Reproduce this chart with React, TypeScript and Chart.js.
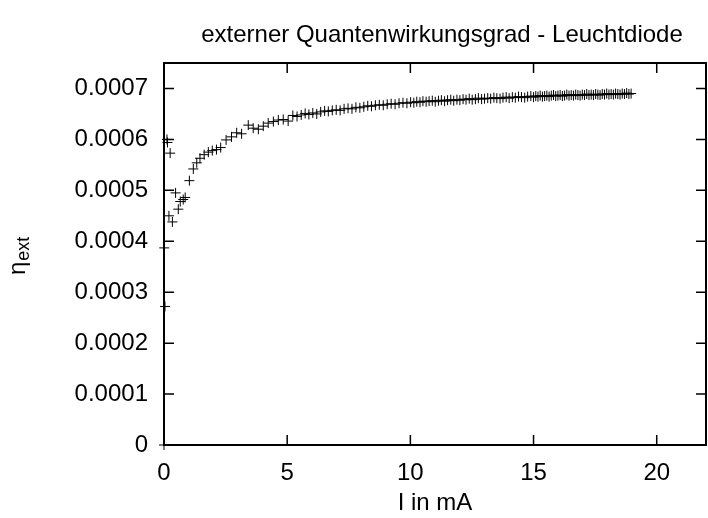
import React, { useEffect, useRef } from "react";
import { Chart, registerables } from "chart.js";

Chart.register(...registerables);

const chartTitle = "externer Quantenwirkungsgrad - Leuchtdiode";
const xAxisTitle = "I in mA";
const yAxisSymbol = "η";
const yAxisSub = "ext";

const xRange = [0, 22];
const yRange = [0, 0.00075];
const xTickStep = 5;
const yTickStep = 0.0001;

// Current in mA
const currentMA = [
  0, 0.01, 0.04, 0.12, 0.14, 0.2, 0.25, 0.34, 0.47, 0.58, 0.66, 0.78, 0.86,
  1.03, 1.19, 1.33, 1.46, 1.63, 1.8, 1.96, 2.13, 2.3, 2.52, 2.74, 2.95, 3.15,
  3.42, 3.62, 3.83, 4.03, 4.23, 4.44, 4.64, 4.84, 5.04, 5.23, 5.4, 5.57, 5.73,
  5.88,
  6.04, 6.2, 6.36, 6.52, 6.67, 6.83, 6.99, 7.15, 7.31, 7.47, 7.63, 7.79, 7.95,
  8.11, 8.27, 8.42, 8.58, 8.74, 8.9, 9.06, 9.22, 9.38, 9.54, 9.7, 9.86, 10.01,
  10.14, 10.26, 10.39, 10.51, 10.64, 10.76, 10.89, 11.01, 11.14, 11.26, 11.39,
  11.51, 11.64, 11.76, 11.89, 12.01, 12.14, 12.26, 12.39, 12.51, 12.64, 12.76,
  12.89, 13.01, 13.14, 13.26, 13.39, 13.51, 13.64, 13.76, 13.89, 14.01, 14.14,
  14.26, 14.39, 14.51, 14.64, 14.76, 14.89, 15.0,
  15.09, 15.18, 15.27, 15.36, 15.45, 15.54, 15.63, 15.72, 15.81, 15.9, 15.99,
  16.08, 16.17, 16.26, 16.35, 16.44, 16.53, 16.62, 16.71, 16.8, 16.89, 16.98,
  17.07, 17.16, 17.25, 17.34, 17.43, 17.52, 17.61, 17.7, 17.79, 17.88, 17.97,
  18.06, 18.15, 18.24, 18.33, 18.42, 18.51, 18.6, 18.69, 18.78, 18.87, 18.96,
];

// External quantum efficiency
const etaExt = [
  0, 3.87e-4, 2.72e-4, 6.0e-4, 5.94e-4, 4.5e-4, 5.73e-4, 4.38e-4, 4.95e-4,
  4.63e-4, 4.78e-4, 4.82e-4, 4.86e-4, 5.19e-4, 5.42e-4, 5.54e-4, 5.63e-4,
  5.7e-4, 5.75e-4, 5.78e-4, 5.8e-4, 5.84e-4, 5.99e-4, 6.05e-4, 6.13e-4,
  6.11e-4, 6.28e-4, 6.22e-4, 6.2e-4, 6.26e-4, 6.32e-4, 6.35e-4, 6.38e-4,
  6.39e-4, 6.36e-4, 6.47e-4, 6.45e-4, 6.48e-4, 6.51e-4, 6.49e-4,
  6.52e-4, 6.5e-4, 6.54e-4, 6.56e-4, 6.55e-4, 6.57e-4, 6.58e-4, 6.57e-4,
  6.6e-4, 6.61e-4, 6.6e-4, 6.63e-4, 6.62e-4, 6.64e-4, 6.66e-4, 6.65e-4,
  6.67e-4, 6.68e-4, 6.67e-4, 6.69e-4, 6.7e-4, 6.69e-4, 6.71e-4, 6.72e-4,
  6.71e-4, 6.73e-4,
  6.72e-4, 6.74e-4, 6.73e-4, 6.75e-4, 6.74e-4, 6.75e-4, 6.76e-4, 6.74e-4,
  6.76e-4, 6.77e-4, 6.75e-4, 6.77e-4, 6.78e-4, 6.76e-4, 6.78e-4, 6.77e-4,
  6.79e-4, 6.78e-4, 6.8e-4, 6.78e-4, 6.79e-4, 6.81e-4, 6.79e-4, 6.8e-4,
  6.81e-4, 6.8e-4, 6.82e-4, 6.81e-4, 6.8e-4, 6.82e-4, 6.83e-4, 6.81e-4,
  6.83e-4, 6.82e-4, 6.84e-4, 6.83e-4, 6.82e-4, 6.84e-4, 6.85e-4, 6.83e-4,
  6.85e-4, 6.84e-4, 6.86e-4, 6.84e-4, 6.85e-4, 6.86e-4, 6.84e-4, 6.86e-4,
  6.87e-4, 6.85e-4, 6.86e-4, 6.87e-4, 6.85e-4, 6.86e-4, 6.88e-4, 6.86e-4,
  6.87e-4, 6.86e-4, 6.88e-4, 6.87e-4, 6.86e-4, 6.88e-4, 6.87e-4, 6.89e-4,
  6.87e-4, 6.88e-4, 6.87e-4, 6.89e-4, 6.88e-4, 6.87e-4, 6.89e-4, 6.88e-4,
  6.9e-4, 6.88e-4, 6.89e-4, 6.88e-4, 6.9e-4, 6.89e-4, 6.88e-4, 6.9e-4,
  6.89e-4, 6.91e-4, 6.89e-4, 6.9e-4,
];

const FONT = "'Liberation Sans', Arial, sans-serif";
const PLOT_LEFT = 164;
const PLOT_RIGHT = 706;

const framePlugin = {
  id: "gnuFrame",
  afterLayout(chart: any) {
    // pin the plot frame to fixed pixel edges
    const a = chart.chartArea;
    const xs = chart.scales.x;
    a.left = PLOT_LEFT;
    a.right = PLOT_RIGHT;
    a.width = PLOT_RIGHT - PLOT_LEFT;
    xs.left = PLOT_LEFT;
    xs.right = PLOT_RIGHT;
    xs.width = PLOT_RIGHT - PLOT_LEFT;
    xs.configure();
  },
  afterDatasetsDraw(chart: any) {
    const { ctx, chartArea: a, scales } = chart;
    const xs = scales.x;
    const ys = scales.y;
    const tl = 10;
    ctx.save();
    ctx.strokeStyle = "#000";
    ctx.lineWidth = 1.5;
    ctx.beginPath();
    xs.ticks.forEach((t: any) => {
      const px = xs.getPixelForValue(t.value);
      ctx.moveTo(px, a.bottom);
      ctx.lineTo(px, a.bottom - tl);
      ctx.moveTo(px, a.top);
      ctx.lineTo(px, a.top + tl);
    });
    ys.ticks.forEach((t: any) => {
      const py = ys.getPixelForValue(t.value);
      ctx.moveTo(a.left, py);
      ctx.lineTo(a.left + tl, py);
      ctx.moveTo(a.right, py);
      ctx.lineTo(a.right - tl, py);
    });
    ctx.stroke();
    ctx.lineWidth = 2;
    ctx.strokeRect(a.left, a.top, a.right - a.left, a.bottom - a.top);
    ctx.restore();
  },
  afterDraw(chart: any) {
    const { ctx } = chart;
    ctx.save();
    ctx.fillStyle = "#000";
    // chart title
    ctx.font = `24px ${FONT}`;
    ctx.textAlign = "center";
    ctx.textBaseline = "middle";
    ctx.fillText(chartTitle, 442, 35);
    // y axis title with subscript
    ctx.translate(25, 275);
    ctx.rotate(-Math.PI / 2);
    ctx.textBaseline = "alphabetic";
    ctx.textAlign = "left";
    ctx.font = `24px ${FONT}`;
    ctx.fillText(yAxisSymbol, 0, 0);
    const w = ctx.measureText(yAxisSymbol).width;
    ctx.font = `18px ${FONT}`;
    ctx.fillText(yAxisSub, w + 1, 4);
    ctx.restore();
  },
};

export default function App() {
  const ref = useRef<HTMLCanvasElement | null>(null);

  useEffect(() => {
    if (!ref.current) return;
    const points = currentMA.map((x, i) => ({ x, y: etaExt[i] }));
    const chart = new Chart(ref.current, {
      type: "scatter",
      data: {
        datasets: [
          {
            data: points,
            pointStyle: "cross",
            pointRadius: 5,
            pointHoverRadius: 5,
            pointBorderWidth: 1,
            borderColor: "#000",
            backgroundColor: "#000",
            clip: false as any,
          },
        ],
      },
      options: {
        animation: false,
        responsive: true,
        maintainAspectRatio: false,
        layout: { padding: { left: 0, right: 2, top: 63, bottom: 0 } },
        plugins: {
          legend: { display: false },
          tooltip: { enabled: false },
          title: { display: false },
        },
        scales: {
          x: {
            type: "linear",
            min: xRange[0],
            max: xRange[1],
            grid: { display: false, drawTicks: false },
            border: { display: false },
            ticks: {
              stepSize: xTickStep,
              includeBounds: false,
              color: "#000",
              padding: 14,
              maxRotation: 0,
              font: { family: FONT, size: 24 },
              callback: (v: any) => String(v),
            },
            title: {
              display: true,
              text: xAxisTitle,
              color: "#000",
              font: { family: FONT, size: 24 },
              padding: { top: 0, bottom: 0 },
            },
            afterFit: (s: any) => {
              s.height = 73;
              s.paddingLeft = 0;
              s.paddingRight = 0;
            },
          },
          y: {
            type: "linear",
            min: yRange[0],
            max: yRange[1],
            grid: { display: false, drawTicks: false },
            border: { display: false },
            ticks: {
              stepSize: yTickStep,
              includeBounds: false,
              color: "#000",
              padding: 16,
              font: { family: FONT, size: 24 },
              callback: (v: any) => (Number(v) === 0 ? "0" : Number(v).toFixed(4)),
            },
            afterFit: (s: any) => {
              s.width = 164;
              s.paddingTop = 0;
              s.paddingBottom = 0;
            },
          },
        },
      },
      plugins: [framePlugin],
    });
    return () => chart.destroy();
  }, []);

  return (
    <div style={{ position: "absolute", left: 0, top: 0, width: 708, height: 518, background: "#fff" }}>
      <canvas ref={ref} />
    </div>
  );
}
